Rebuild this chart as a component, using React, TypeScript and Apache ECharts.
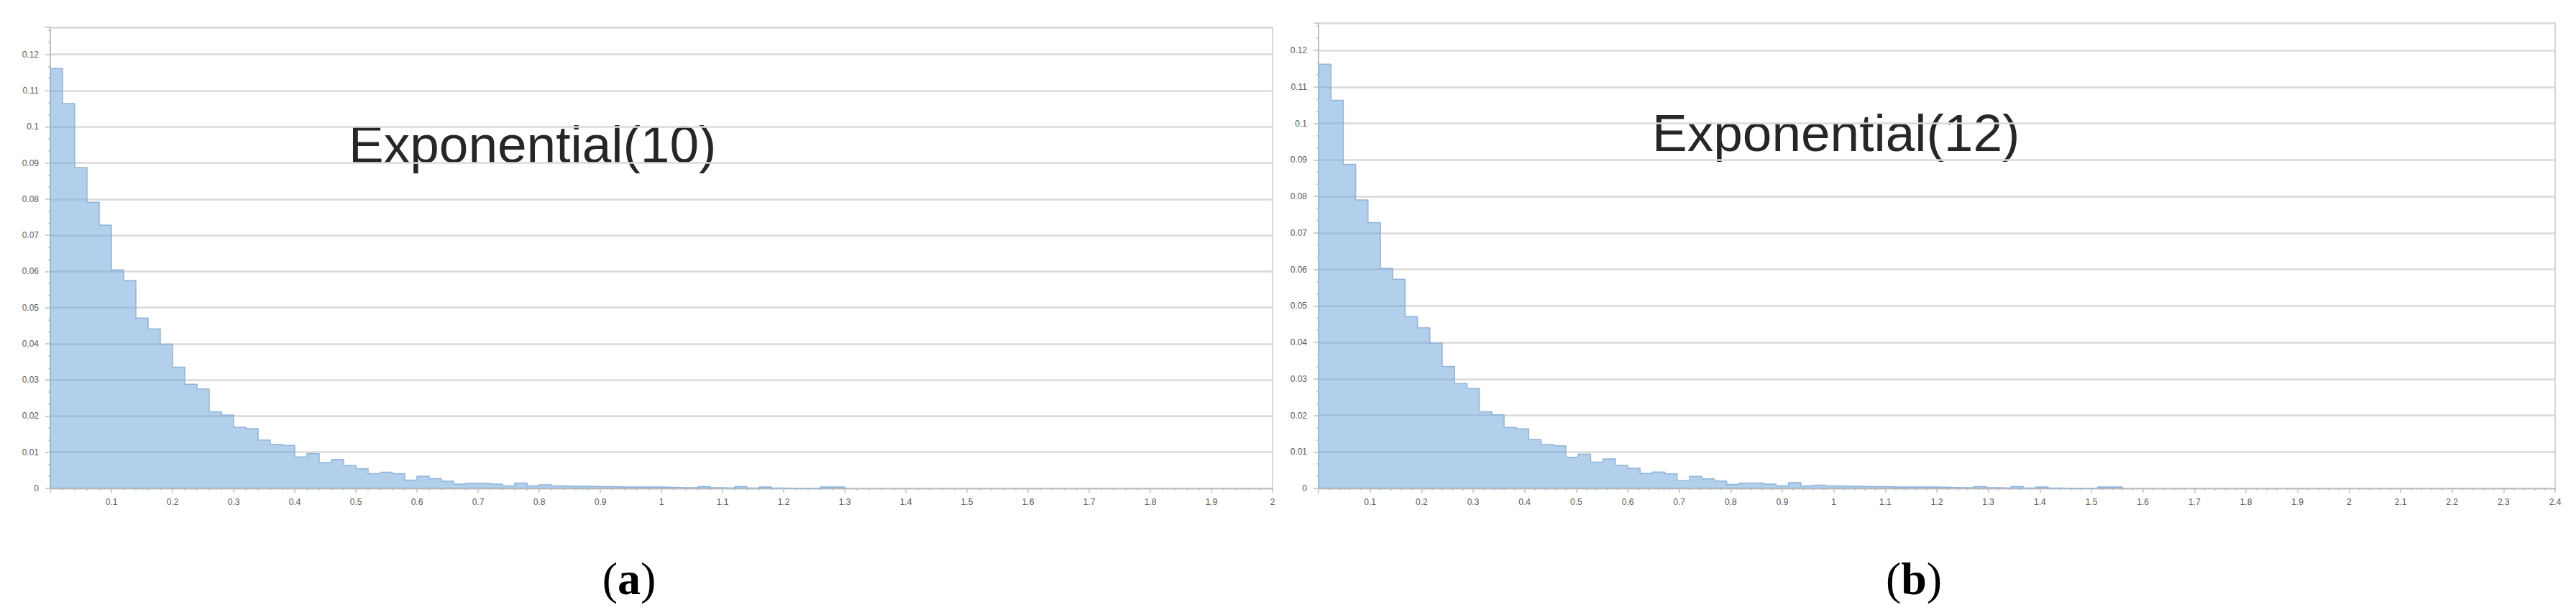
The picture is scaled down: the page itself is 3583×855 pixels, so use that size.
import React, { useEffect, useRef } from "react";
import * as echarts from "echarts";

// ---- data (histogram densities) ----
const binWidthA = 0.02; // Exponential(10): 0..2 in 100 bins
const binWidthB = 0.024; // Exponential(12): 0..2.4 in 100 bins

const densityA = [
  0.1161, 0.1064, 0.0887, 0.0791, 0.0728, 0.0604, 0.0575, 0.0471, 0.0441, 0.0399,
  0.0335, 0.0288, 0.0275, 0.0212, 0.0203, 0.0169, 0.0165, 0.0134, 0.0122, 0.0119,
  0.0087, 0.0096, 0.0071, 0.008, 0.0063, 0.0054, 0.0041, 0.0045, 0.0041, 0.0023,
  0.0034, 0.0027, 0.002, 0.0012, 0.0014, 0.0014, 0.0012, 0.0007, 0.0015, 0.0007,
  0.001, 0.0007, 0.0006, 0.0006, 0.0005, 0.0005, 0.0004, 0.0004, 0.0004, 0.0004,
  0.0003, 0.0002, 0.0002, 0.0005, 0.0002, 0.0001, 0.0005, 0.0001, 0.0004, 0.0001,
  0, 0, 0, 0.0004, 0.0004,
];

const densityB = [
  0.1162, 0.1063, 0.0888, 0.079, 0.0728, 0.0603, 0.0573, 0.0471, 0.044, 0.0398,
  0.0334, 0.0287, 0.0274, 0.021, 0.0202, 0.0167, 0.0163, 0.0134, 0.012, 0.0117,
  0.0085, 0.0094, 0.0072, 0.0081, 0.0063, 0.0055, 0.0041, 0.0045, 0.004, 0.0021,
  0.0033, 0.0026, 0.002, 0.0011, 0.0015, 0.0015, 0.0012, 0.0007, 0.0016, 0.0007,
  0.0009, 0.0007, 0.0006, 0.0006, 0.0005, 0.0005, 0.0004, 0.0004, 0.0004, 0.0004,
  0.0003, 0.0002, 0.0002, 0.0005, 0.0002, 0.0001, 0.0005, 0.0001, 0.0004, 0.0001,
  0, 0, 0, 0.0004, 0.0004,
];

const xMaxA = 2;
const xMaxB = 2.4;
const xTickStep = 0.1;
const yMax = 0.1275;
const yTickStep = 0.01;

const titleA = "Exponential(10)";
const titleB = "Exponential(12)";
const captionA = "a";
const captionB = "b";

function stepData(values: number[], bw: number): [number, number][] {
  const pts: [number, number][] = values.map((v, i) => [+(i * bw).toFixed(4), v]);
  pts.push([+(values.length * bw).toFixed(4), 0]);
  return pts;
}

const labelColor = "#595959";
const tickColor = "#bfbfbf";

function xAxisCfg(gridIndex: number, max: number) {
  return {
    type: "value",
    gridIndex,
    min: 0,
    max,
    interval: xTickStep,
    axisLine: { show: true, lineStyle: { color: tickColor, width: 2 } },
    axisTick: { show: true, length: 6, lineStyle: { color: tickColor, width: 1.5 } },
    minorTick: { show: true, splitNumber: 5, length: 3, lineStyle: { color: tickColor, width: 1.5 } },
    splitLine: { show: false },
    axisLabel: {
      showMinLabel: false,
      color: labelColor,
      fontSize: 12,
      fontFamily: "Liberation Sans",
      margin: 13,
    },
  };
}

function yAxisCfg(gridIndex: number) {
  return {
    type: "value",
    gridIndex,
    min: 0,
    max: yMax,
    interval: yTickStep,
    axisLine: { show: true, lineStyle: { color: tickColor, width: 2 } },
    axisTick: { show: true, length: 7, lineStyle: { color: tickColor, width: 1.5 } },
    minorTick: { show: true, splitNumber: 3, length: 3, lineStyle: { color: tickColor, width: 1.5 } },
    splitLine: { show: true, lineStyle: { color: "#dadada", width: 2.5 } },
    axisLabel: {
      showMaxLabel: false,
      color: labelColor,
      fontSize: 12,
      fontFamily: "Liberation Sans",
      margin: 16,
    },
  };
}

function histSeries(idx: number, values: number[], bw: number) {
  return {
    type: "line",
    xAxisIndex: idx,
    yAxisIndex: idx,
    step: "end",
    symbol: "none",
    data: stepData(values, bw),
    lineStyle: { color: "#8fb4dc", width: 1.5 },
    areaStyle: { color: "rgb(101,159,215)", opacity: 0.5 },
    silent: true,
  };
}

function caption(letter: string, x: number) {
  return {
    type: "text",
    x,
    y: 804,
    style: {
      text: "{p|(}{b|" + letter + "}{p|)}",
      align: "center",
      verticalAlign: "middle",
      rich: {
        p: { fontSize: 64, fontFamily: "Liberation Serif", fill: "#000" },
        b: { fontSize: 64, fontFamily: "Liberation Serif", fontWeight: "bold", fill: "#000" },
      },
    },
  };
}

function title(text: string, x: number, y: number) {
  return {
    type: "text",
    x,
    y,
    style: {
      text,
      fontSize: 73,
      fontFamily: "Liberation Sans",
      fill: "#262626",
      verticalAlign: "middle",
    },
  };
}

export default function App() {
  const ref = useRef<HTMLDivElement>(null);
  useEffect(() => {
    if (!ref.current) return;
    const chart = echarts.init(ref.current, undefined, { renderer: "svg" });
    chart.setOption({
      animation: false,
      backgroundColor: "#ffffff",
      grid: [
        { left: 70, top: 38, width: 1700, height: 641, show: true, borderColor: "#d6d6d6", borderWidth: 2 },
        { left: 1834, top: 32, width: 1720, height: 647, show: true, borderColor: "#d6d6d6", borderWidth: 2 },
      ],
      xAxis: [xAxisCfg(0, xMaxA), xAxisCfg(1, xMaxB)],
      yAxis: [yAxisCfg(0), yAxisCfg(1)],
      series: [histSeries(0, densityA, binWidthA), histSeries(1, densityB, binWidthB)],
      graphic: [
        title(titleA, 485, 200),
        title(titleB, 2298, 184),
        caption(captionA, 875, 804),
        caption(captionB, 2662, 804),
      ],
    });
    return () => chart.dispose();
  }, []);
  return (
    <div
      ref={ref}
      style={{ position: "absolute", left: 0, top: 0, width: 3583, height: 855 }}
    />
  );
}
